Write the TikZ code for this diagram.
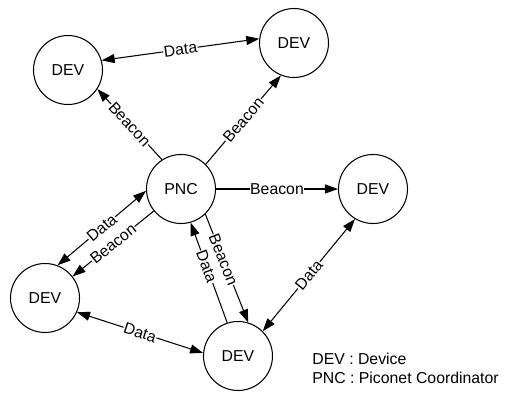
\documentclass[tikz,border=0pt]{standalone}
\usepackage{fontspec}
\setmainfont{Liberation Sans}
\usetikzlibrary{arrows.meta}
\tikzset{
  dev/.style={draw, circle, line width=0.6pt, minimum size=1.38cm,
              inner sep=0pt, font=\small},
  flow/.style={-{Triangle[length=2.6mm, width=1.8mm]}, line width=0.6pt},
  biflow/.style={{Triangle[length=2.6mm, width=1.8mm]}-{Triangle[length=2.6mm, width=1.8mm]},
                 line width=0.6pt},
  lbl/.style={midway, sloped, fill=white, inner sep=0.3pt, font=\small},
}

\begin{document}
\begin{tikzpicture}
  \useasboundingbox (0,0) rectangle (10.1,-7.88);
  \node[dev] (pnc)   at (3.62,-3.78) {PNC};
  \node[dev] (devtl) at (1.36,-1.40) {DEV};
  \node[dev] (devtr) at (5.88,-0.86) {DEV};
  \node[dev] (devmr) at (7.46,-3.78) {DEV};
  \node[dev] (devbl) at (0.90,-5.96) {DEV};
  \node[dev] (devbt) at (4.76,-7.12) {DEV};
  % beacons from the coordinator
  \draw[flow] (pnc.123) -- (devtl.327) node[lbl] {Beacon};
  \draw[flow] (pnc.45) -- (devtr.248) node[lbl] {Beacon};
  \draw[flow] (pnc) -- (devmr) node[lbl] {Beacon};
  \draw[flow] (pnc.219) -- (devbl.38) node[lbl] {Beacon};
  \draw[flow] (pnc.314) -- (devbt.73) node[lbl, pos=0.42] {Beacon};
  % data links
  \draw[biflow] (devtl.16) -- (devtr.173) node[lbl] {Data};
  \draw[biflow] (pnc.183) -- (devbl.69) node[lbl] {Data};
  \draw[flow] (devbt.108) -- (pnc.286) node[lbl, pos=0.56] {Data};
  \draw[biflow] (devmr.239) -- (devbt.45) node[lbl] {Data};
  \draw[biflow] (devbl.336) -- (devbt.175) node[lbl] {Data};
  \node[anchor=north west, align=left, inner sep=0pt, font=\small] (legend)
        at (6.24,-7.05) {DEV : Device\\PNC : Piconet Coordinator};
\end{tikzpicture}
\end{document}
